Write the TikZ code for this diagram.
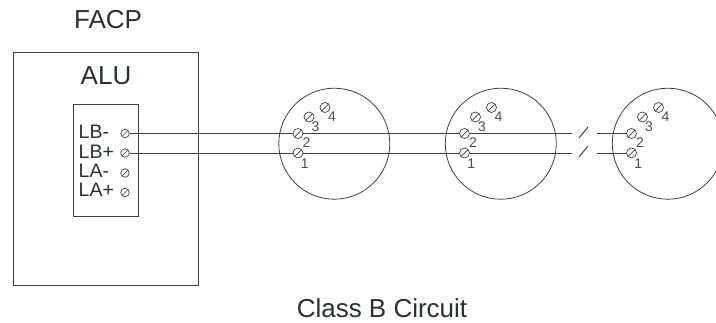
\documentclass[tikz,border=0pt]{standalone}
\usepackage{fontspec}
\setmainfont{Liberation Sans}
\usetikzlibrary{positioning}
\definecolor{wirecol}{HTML}{404040}
\definecolor{textcol}{HTML}{2A2F35}
\tikzset{
	screw/.style={draw=wirecol, circle, inner sep=0pt, minimum size=10pt, line width=0.7pt, path picture={\draw[wirecol, line width=0.7pt] (path picture bounding box.south west) -- (path picture bounding box.north east);}},
	termscrew/.style={screw, minimum size=8.5pt},
	base/.style={draw=wirecol, circle, inner sep=0pt, minimum size=111pt, line width=0.8pt},
	panel/.style={draw=wirecol, inner sep=0pt, line width=1pt},
	wire/.style={draw=wirecol, line width=1pt},
	termlabel/.style={anchor=west, inner sep=0pt, font=\fontsize{19.5}{19.5}\selectfont, text=textcol},
	numlabel/.style={inner sep=0pt, font=\fontsize{14}{14}\selectfont, text=textcol!85},
	title/.style={inner sep=0pt, font=\fontsize{26}{26}\selectfont, text=textcol}
}
\begin{document}
\begin{tikzpicture}
		\useasboundingbox (0pt, 0pt) rectangle (716pt, -322pt);
		\draw (105.5pt, -168.5pt)node[panel, minimum width=185pt, minimum height=233pt](alu){};
		\draw (105.5pt, -160pt)node[panel, minimum width=65pt, minimum height=112pt](block){};
		\draw (108pt, -19.5pt)node[title](facp){FACP};
		\draw (106pt, -75.5pt)node[title](alulabel){ALU};
		\draw (382pt, -308.5pt)node[title](caption){Class B Circuit};
		\draw (78.5pt, -132pt)node[termlabel](lbm){LB-};
		\draw (78.5pt, -151.5pt)node[termlabel](lbp){LB+};
		\draw (78.5pt, -171pt)node[termlabel](lam){LA-};
		\draw (78.5pt, -190pt)node[termlabel](lap){LA+};
		\draw (125pt, -133.5pt)node[termscrew](t1){};
		\draw (125pt, -153pt)node[termscrew](t2){};
		\draw (125pt, -173pt)node[termscrew](t3){};
		\draw (125pt, -192.5pt)node[termscrew](t4){};
		% first base
		\draw (334.3pt, -143.7pt)node[base](b1){};
		\draw (298pt, -153pt)node[screw](a1){};
		\draw (298pt, -133.5pt)node[screw](a2){};
		\draw (309pt, -117pt)node[screw](a3){};
		\draw (325pt, -107.5pt)node[screw](a4){};
		\draw (304.7pt, -163.3pt)node[numlabel](a1n){1};
		\draw (306.5pt, -142.7pt)node[numlabel](a2n){2};
		\draw (315.5pt, -127pt)node[numlabel](a3n){3};
		\draw (332pt, -116.5pt)node[numlabel](a4n){4};
		% second base
		\draw (500.8pt, -143.7pt)node[base](b2){};
		\draw (464.5pt, -153pt)node[screw](c1){};
		\draw (464.5pt, -133.5pt)node[screw](c2){};
		\draw (475.5pt, -117pt)node[screw](c3){};
		\draw (491.5pt, -107.5pt)node[screw](c4){};
		\draw (471.2pt, -163.3pt)node[numlabel](c1n){1};
		\draw (473pt, -142.7pt)node[numlabel](c2n){2};
		\draw (482pt, -127pt)node[numlabel](c3n){3};
		\draw (498.5pt, -116.5pt)node[numlabel](c4n){4};
		% last base
		\draw (667.8pt, -143.7pt)node[base](b3){};
		\draw (631.5pt, -153pt)node[screw](d1){};
		\draw (631.5pt, -133.5pt)node[screw](d2){};
		\draw (642.5pt, -117pt)node[screw](d3){};
		\draw (658.5pt, -107.5pt)node[screw](d4){};
		\draw (638.2pt, -163.3pt)node[numlabel](d1n){1};
		\draw (640pt, -142.7pt)node[numlabel](d2n){2};
		\draw (649pt, -127pt)node[numlabel](d3n){3};
		\draw (665.5pt, -116.5pt)node[numlabel](d4n){4};
		% break in the wires
		\coordinate (g1) at (572pt, -133.5pt);
		\coordinate (h1) at (597pt, -133.5pt);
		\coordinate (g2) at (572pt, -153pt);
		\coordinate (h2) at (597pt, -153pt);
		\coordinate (s1) at (579pt, -138pt);
		\coordinate (s2) at (588pt, -127pt);
		\coordinate (s3) at (579pt, -157pt);
		\coordinate (s4) at (588pt, -146pt);
		\path[wire] (t1) -- (a2);
		\path[wire] (t2) -- (a1);
		\path[wire] (a2) -- (c2);
		\path[wire] (a1) -- (c1);
		\path[wire] (c2) -- (g1);
		\path[wire] (c1) -- (g2);
		\path[wire] (h1) -- (d2);
		\path[wire] (h2) -- (d1);
		\path[wire] (s1) -- (s2);
		\path[wire] (s3) -- (s4);
		\end{tikzpicture}
\end{document}
